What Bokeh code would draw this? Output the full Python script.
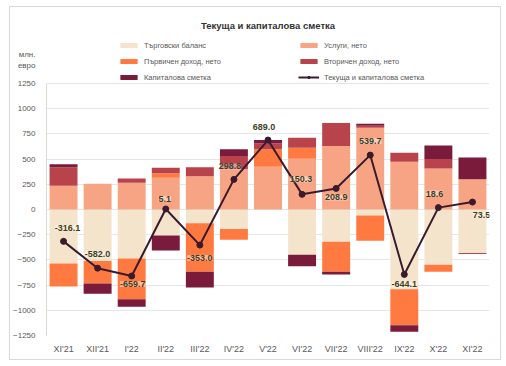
from bokeh.plotting import figure
from bokeh.models import (ColumnDataSource, Range1d, FixedTicker, Legend, LegendItem,
                          LabelSet, Title)
from bokeh.core.properties import value
from bokeh.embed import file_html
from bokeh.resources import INLINE

months = ["XI'21", "XII'21", "I'22", "II'22", "III'22", "IV'22", "V'22",
          "VI'22", "VII'22", "VIII'22", "IX'22", "X'22", "XI'22"]
trade = [-535, -512, -485, -259, -136, -193, -1, -448, -319, -60, -790, -548, -432]
services = [236, 255, 265, 314, 331, 400, 423, 503, 629, 811, 473, 407, 301]
primary = [-229, -222, -405, 46, -481, -106, 174, 109, -299, -249, -359, -70, 0]
secondary = [182, 0, 43, 53, 89, 130, 60, 99, 228, 20, 89, 93, -10]
capital = [30, -103, -76, -149, -156, 68, 33, -116, -27, 20, -63, 136, 215]
total = [-316.1, -582.0, -659.7, 5.1, -353.0, 298.8, 689.0, 150.3, 208.9, 539.7, -644.1, 18.6, 73.5]
y_ticks = [-1250, -1000, -750, -500, -250, 0, 250, 500, 750, 1000, 1250]
unit_label = "млн.\nевро"
unit_pos = 1480

names = ["Търговски баланс", "Услуги, нето", "Първичен доход, нето",
         "Вторичен доход, нето", "Капиталова сметка"]
line_name = "Текуща и капиталова сметка"
colors = ["#F4E4CB", "#F6A483", "#FE7A40", "#B8434B", "#7B1B3B"]
line_color = "#3A1A2C"

FONT = "Liberation Sans"
GRAY = "#595959"

# label offsets (px) relative to line points: (dx, dy), dy positive = up
lab_dx = [4, 0, 1, -1, 0, -4, -4, -1, 0, 0, 0, -4, 9]
lab_dy = [13, 14, -8, 10, -13, 13, 13, 15, -9, 14, -10, 14, -13]

p = figure(width=492, height=354, x_range=months, y_range=Range1d(-1250, 1736),
           output_backend="svg", toolbar_location=None,
           min_border_left=34, min_border_right=13, min_border_bottom=26,
           min_border_top=27)
p.styles = {"border": "1px solid #d9d9d9", "margin": "6px 0 0 9px"}

p.title = Title(text="Текуща и капиталова сметка", align="center",
                text_font=FONT, text_font_size="9.5px", text_font_style="bold",
                text_color="#333333", offset=0, standoff=7)

comps = [trade, services, primary, secondary, capital]
pos_base = [0.0] * len(months)
neg_base = [0.0] * len(months)
legend_renderers = []
for comp, name, col in zip(comps, names, colors):
    pb, pt, nb, nt = [], [], [], []
    for i, v in enumerate(comp):
        if v >= 0:
            pb.append(pos_base[i]); pt.append(pos_base[i] + v); pos_base[i] += v
            nb.append(neg_base[i]); nt.append(neg_base[i])
        else:
            nb.append(neg_base[i]); nt.append(neg_base[i] + v); neg_base[i] += v
            pb.append(pos_base[i]); pt.append(pos_base[i])
    src = ColumnDataSource(dict(x=months, pb=pb, pt=pt, nb=nb, nt=nt))
    r1 = p.vbar(x="x", bottom="pb", top="pt", width=0.82, source=src,
                fill_color=col, line_color=None)
    r2 = p.vbar(x="x", bottom="nb", top="nt", width=0.82, source=src,
                fill_color=col, line_color=None)
    legend_renderers.append((name, [r1, r2]))

lsrc = ColumnDataSource(dict(x=months, y=total, t=[f"{v:.1f}" for v in total],
                             dx=lab_dx, dy=lab_dy))
rl = p.line(x="x", y="y", source=lsrc, line_color=line_color, line_width=2)
rc = p.scatter(x="x", y="y", source=lsrc, size=6, fill_color=line_color, line_color=line_color)

labels = LabelSet(x="x", y="y", text="t", source=lsrc, x_offset="dx", y_offset="dy",
                  text_align="center", text_baseline="middle",
                  text_font=value(FONT), text_font_size="9px", text_font_style="bold",
                  text_color="#3F3F1F", background_fill_color="white",
                  background_fill_alpha=0.45)
p.add_layout(labels)

items_dict = dict(legend_renderers)
order = [names[0], names[2], names[4], names[1], names[3]]
items = [LegendItem(label=n, renderers=items_dict[n]) for n in order]
items.append(LegendItem(label=line_name, renderers=[rl, rc]))
legend = Legend(items=items, ncols=2, location=(72, 252), orientation="vertical",
                label_text_font=FONT, label_text_font_size="7.5px", label_text_color=GRAY,
                glyph_width=21, glyph_height=6, label_height=12, label_width=150,
                label_standoff=5, spacing=4, padding=2, margin=0,
                border_line_color=None, background_fill_alpha=0)
p.add_layout(legend, "center")

p.yaxis.ticker = FixedTicker(ticks=y_ticks + [unit_pos])
p.yaxis.major_label_overrides = {unit_pos: unit_label}
p.yaxis.bounds = (y_ticks[0], y_ticks[-1])
p.ygrid.ticker = FixedTicker(ticks=y_ticks)
p.yaxis.major_tick_line_color = None
p.yaxis.minor_tick_line_color = None
p.yaxis.axis_line_color = "#d9d9d9"
p.yaxis.major_label_text_font = FONT
p.yaxis.major_label_text_font_size = "8px"
p.yaxis.major_label_text_color = GRAY
p.yaxis.major_label_standoff = 5
p.xaxis.major_tick_line_color = None
p.xaxis.axis_line_color = None
p.xaxis.major_label_text_font = FONT
p.xaxis.major_label_text_font_size = "9px"
p.xaxis.major_label_text_color = GRAY
p.xaxis.major_label_standoff = 2
p.xgrid.grid_line_color = None
p.ygrid.grid_line_color = "#e6e6e6"
p.outline_line_color = None
p.x_range.range_padding = 0

open("out.html", "w").write(file_html(p, INLINE))
